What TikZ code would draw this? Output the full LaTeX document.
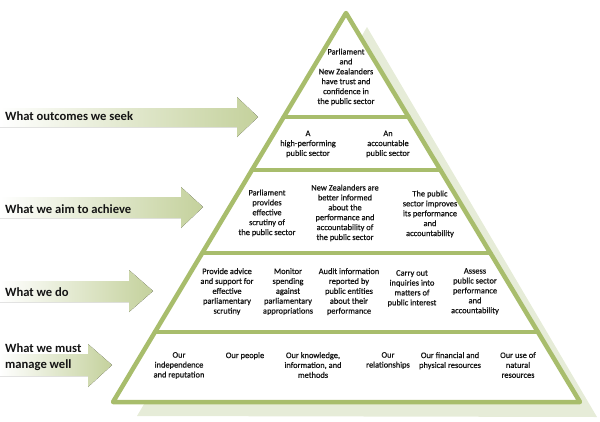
\documentclass[tikz,border=0pt]{standalone}
\usepackage{fontspec}
\setmainfont{Carlito}
\newfontfamily\ptfont{Carlito}[FakeBold=0.7]
\usetikzlibrary{calc}
\definecolor{pyrgreen}{RGB}{168,189,108}
\definecolor{shadowc}{RGB}{230,236,216}
\definecolor{arrowc}{RGB}{196,209,156}
\definecolor{txt}{RGB}{20,20,20}
\tikzset{
  pyr/.style={draw=pyrgreen, line width=4.5pt, line join=round, line cap=round},
  ptext/.style={font=\ptfont\fontsize{8.4}{9.9}\selectfont, align=center, inner sep=0pt, text=txt},
  ltext/.style={font=\fontsize{12.6}{15.5}\selectfont\bfseries, align=left, inner sep=0pt, anchor=west, text=txt},
  bigarrow/.style={left color=white, right color=arrowc, draw=none},
}
\begin{document}
\begin{tikzpicture}[x=1pt,y=-1pt]
\useasboundingbox (0,0) rectangle (600,421);
% shadow
\coordinate (sapex) at (367,27);
\coordinate (sbl) at (137,416);
\coordinate (sbr) at (597,417);
\fill[shadowc] (sapex) -- (sbl) -- (sbr) -- cycle;
% pyramid
\coordinate (apex) at (346,13);
\coordinate (bl) at (113,402);
\coordinate (br) at (580,402);
\draw[pyr, fill=white] (apex) -- (bl) -- (br) -- cycle;
\coordinate (l1) at ($(apex)!0.2674!(bl)$);
\coordinate (r1) at ($(apex)!0.2674!(br)$);
\coordinate (l2) at ($(apex)!0.4036!(bl)$);
\coordinate (r2) at ($(apex)!0.4036!(br)$);
\coordinate (l3) at ($(apex)!0.6170!(bl)$);
\coordinate (r3) at ($(apex)!0.6170!(br)$);
\coordinate (l4) at ($(apex)!0.8201!(bl)$);
\coordinate (r4) at ($(apex)!0.8201!(br)$);
\draw[pyr] (l1) -- (r1);
\draw[pyr] (l2) -- (r2);
\draw[pyr] (l3) -- (r3);
\draw[pyr] (l4) -- (r4);
% arrows
\fill[bigarrow] (0,108) -- (237,108) -- (237,97) -- (258,117) -- (237,137) -- (237,127) -- (0,127) -- cycle;
\fill[bigarrow] (0,197) -- (181,197) -- (181,187) -- (203,207) -- (181,228) -- (181,218) -- (0,218) -- cycle;
\fill[bigarrow] (0,281) -- (129,281) -- (129,270) -- (153,291) -- (129,312) -- (129,302) -- (0,302) -- cycle;
\fill[bigarrow] (0,354) -- (88,354) -- (88,344) -- (112,365) -- (88,387) -- (88,376) -- (0,376) -- cycle;
% left labels
\node[ltext] (lab1) at (5,116) {What outcomes we seek};
\node[ltext] (lab2) at (5,209) {What we aim to achieve};
\node[ltext] (lab3) at (5,292) {What we do};
\node[ltext] (lab4) at (5,357) {What we must\\manage well};
% layer 1
\node[ptext] (t1) at (346,77) {Parliament\\and\\New Zealanders\\have trust and\\confidence in\\the public sector};
% layer 2
\node[ptext] (t2a) at (308,144) {A\\high-performing\\public sector};
\node[ptext] (t2b) at (388,144) {An\\accountable\\public sector};
% layer 3
\node[ptext] (t3a) at (267,213) {Parliament\\provides\\effective\\scrutiny of\\the public sector};
\node[ptext] (t3b) at (345,213) {New Zealanders are\\better informed\\about the\\performance and\\accountability of\\the public sector};
\node[ptext] (t3c) at (430,214) {The public\\sector improves\\its performance\\and\\accountability};
% layer 4
\node[ptext, anchor=north] (t4a) at (227,268) {Provide advice\\and support for\\effective\\parliamentary\\scrutiny};
\node[ptext, anchor=north] (t4b) at (288,268) {Monitor\\spending\\against\\parliamentary\\appropriations};
\node[ptext, anchor=north] (t4c) at (349,268) {Audit information\\reported by\\public entities\\about their\\performance};
\node[ptext, anchor=north] (t4d) at (412,270) {Carry out\\inquiries into\\matters of\\public interest};
\node[ptext, anchor=north] (t4e) at (475,268) {Assess\\public sector\\performance\\and\\accountability};
% layer 5
\node[ptext, anchor=north] (t5a) at (179,352) {Our\\independence\\and reputation};
\node[ptext, anchor=north] (t5b) at (245,352) {Our people};
\node[ptext, anchor=north] (t5c) at (313,352) {Our knowledge,\\information, and\\methods};
\node[ptext, anchor=north] (t5d) at (388,352) {Our\\relationships};
\node[ptext, anchor=north] (t5e) at (450,352) {Our financial and\\physical resources};
\node[ptext, anchor=north] (t5f) at (518,352) {Our use of\\natural\\resources};
\end{tikzpicture}
\end{document}
